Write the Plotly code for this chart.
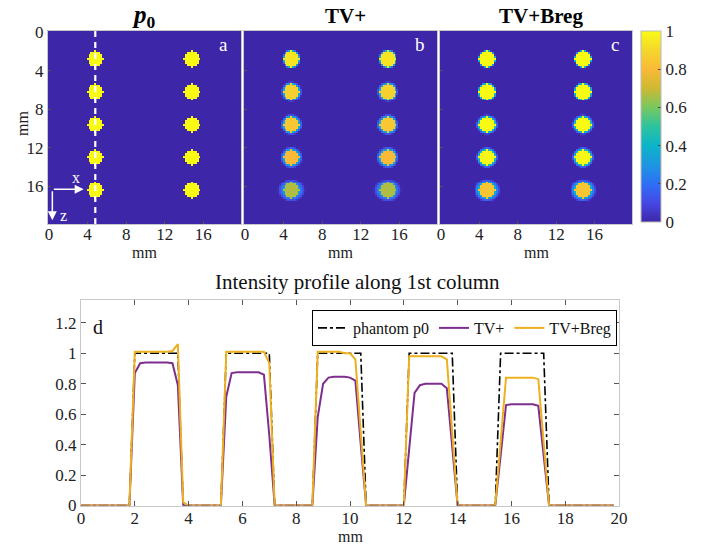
import numpy as np
import plotly.graph_objects as go

# ---------------- data ----------------
# profile positions along the first column (mm)
z_mm = [round(0.2 * i, 1) for i in range(100)]

phantom_p0 = ([0] * 10 + [1] * 9 + [0] * 8 + [1] * 9 + [0] * 8 + [1] * 9 +
              [0] * 8 + [1] * 9 + [0] * 8 + [1] * 9 + [0] * 13)

tv_plus = ([0] * 10 +
           [0.87, 0.935, 0.94, 0.94, 0.94, 0.94, 0.94, 0.935, 0.79] +
           [0] * 8 +
           [0.715, 0.87, 0.875, 0.875, 0.875, 0.875, 0.875, 0.86, 0.46] +
           [0] * 8 +
           [0.58, 0.80, 0.84, 0.845, 0.845, 0.845, 0.84, 0.82, 0.40] +
           [0] * 8 +
           [0.37, 0.74, 0.79, 0.80, 0.80, 0.80, 0.80, 0.77, 0.38] +
           [0] * 8 +
           [0.33, 0.66, 0.665, 0.665, 0.665, 0.665, 0.665, 0.655, 0.33] +
           [0] * 13)

tv_breg = ([0] * 10 +
           [1.01, 1.01, 1.01, 1.01, 1.01, 1.01, 1.01, 1.015, 1.06] +
           [0.02] + [0] * 7 +
           [1.01, 1.01, 1.01, 1.01, 1.01, 1.01, 1.01, 1.01, 0.935] +
           [0] * 8 +
           [1.01, 1.01, 1.01, 1.01, 1.01, 1.0, 1.0, 0.96, 0.50] +
           [0] * 8 +
           [0.98, 0.98, 0.98, 0.98, 0.98, 0.98, 0.98, 0.96, 0.50] +
           [0] * 8 +
           [0.42, 0.84, 0.84, 0.84, 0.84, 0.84, 0.84, 0.83, 0.40] +
           [0] * 13)

# image spots (mm)
spot_x = [4.8, 14.8]
spot_z = [2.8, 6.2, 9.6, 13.0, 16.4]
spot_r = 0.8
p0_peak = [1.0, 1.0, 1.0, 1.0, 1.0]
tv_peak = [0.94, 0.875, 0.845, 0.80, 0.665]
breg_peak = [1.0, 1.0, 1.0, 0.99, 0.84]
tv_halo_x = [0.15, 0.3, 0.35, 0.4, 0.65]
tv_halo_z = [0.15, 0.25, 0.3, 0.35, 0.4]
breg_halo_x = [0.1, 0.2, 0.3, 0.3, 0.55]
breg_halo_z = [0.1, 0.2, 0.25, 0.3, 0.4]

cbar_ticks = [0, 0.2, 0.4, 0.6, 0.8, 1]
cbar_labels = ["0", "0.2", "0.4", "0.6", "0.8", "1"]
img_ticks = [0, 4, 8, 12, 16]
prof_xticks = [0, 2, 4, 6, 8, 10, 12, 14, 16, 18, 20]
prof_yticks = [0, 0.2, 0.4, 0.6, 0.8, 1.0, 1.2]
prof_ylabels = ["0", "0.2", "0.4", "0.6", "0.8", "1", "1.2"]

# ---------------- build images from spot lists ----------------
grid = np.array(z_mm)
X, Z = np.meshgrid(grid, grid)


def render(peaks, hx=None, hz=None):
    img = np.zeros_like(X, dtype=float)
    for k, zc in enumerate(spot_z):
        for xc in spot_x:
            dx = X - xc
            dz = Z - zc
            d = np.sqrt(dx ** 2 + dz ** 2)
            core = d <= spot_r + 1e-6
            if hx is not None:
                ax_ = spot_r + hx[k]
                az_ = spot_r + hz[k]
                e = np.sqrt((dx / ax_) ** 2 + (dz / az_) ** 2)
                e0 = spot_r / max(ax_, az_)
                val = 0.5 * peaks[k] * np.clip((1 - e) / (1 - e0), 0, 1)
                img = np.maximum(img, val)
            img = np.where(core, peaks[k], img)
    return img


img_p0 = render(p0_peak)
img_tv = render(tv_peak, tv_halo_x, tv_halo_z)
img_breg = render(breg_peak, breg_halo_x, breg_halo_z)

parula = [
    [0.00, "rgb(62,38,168)"],
    [0.10, "rgb(70,72,228)"],
    [0.20, "rgb(45,112,245)"],
    [0.30, "rgb(30,150,225)"],
    [0.40, "rgb(12,180,200)"],
    [0.50, "rgb(45,195,160)"],
    [0.60, "rgb(120,200,95)"],
    [0.70, "rgb(205,185,50)"],
    [0.80, "rgb(250,185,55)"],
    [0.90, "rgb(245,215,45)"],
    [1.00, "rgb(249,250,20)"],
]

FONT = "Liberation Serif"
W, H = 708, 545


def px(x):
    return x / W


def py(y):
    return 1 - y / H


fig = go.Figure()

# panel domains (pixels)
panels = [(48, 241), (244, 437), (440, 632)]
top_y = (31, 224)
imgs = [img_p0, img_tv, img_breg]

for i, (img, (x0, x1)) in enumerate(zip(imgs, panels)):
    n = "" if i == 0 else str(i + 1)
    fig.add_trace(go.Heatmap(
        z=img, x=grid, y=grid, colorscale=parula, zmin=0, zmax=1,
        zsmooth=False, xaxis="x" + n, yaxis="y" + n,
        showscale=(i == 2),
        colorbar=dict(
            x=px(641), xanchor="left", y=py(31), yanchor="top",
            len=(222 - 31) / H, lenmode="fraction", thickness=20,
            thicknessmode="pixels", outlinewidth=1, outlinecolor="#bbbbbb",
            tickvals=cbar_ticks, ticktext=cbar_labels,
            ticks="inside", ticklen=3, tickcolor="#444", xpad=0, ypad=0,
            tickfont=dict(family=FONT, size=17, color="#222"),
        ),
        hoverinfo="skip",
    ))
    fig.layout["xaxis" + n] = dict(
        domain=[px(x0), px(x1)], range=[-0.1, 19.9], anchor="y" + n,
        tickvals=img_ticks, ticks="inside", ticklen=3, tickcolor="#555",
        automargin=False, ticklabelstandoff=-5,
        showline=True, linecolor="#c8c8c8", mirror=True, showgrid=False,
        zeroline=False, tickfont=dict(family=FONT, size=17, color="#222"),
    )
    fig.layout["yaxis" + n] = dict(
        domain=[py(top_y[1]), py(top_y[0])], range=[19.9, -0.1], anchor="x" + n,
        tickvals=img_ticks, ticks="inside", ticklen=3, tickcolor="#555",
        showticklabels=(i == 0), automargin=False,
        showline=True, linecolor="#c8c8c8", mirror=True, showgrid=False,
        zeroline=False, tickfont=dict(family=FONT, size=17, color="#222"),
    )

# profile traces
fig.add_trace(go.Scatter(x=z_mm, y=phantom_p0, mode="lines", name="phantom p0",
                         line=dict(color="black", width=1.6, dash="dashdot"),
                         xaxis="x4", yaxis="y4"))
fig.add_trace(go.Scatter(x=z_mm, y=tv_plus, mode="lines", name="TV+",
                         line=dict(color="#7E2F8E", width=2),
                         xaxis="x4", yaxis="y4"))
fig.add_trace(go.Scatter(x=z_mm, y=tv_breg, mode="lines", name="TV+Breg",
                         line=dict(color="#EDB120", width=2),
                         xaxis="x4", yaxis="y4"))

fig.layout["xaxis4"] = dict(
    domain=[px(81), px(619)], range=[0, 20], anchor="y4",
    tickvals=prof_xticks, ticks="inside", ticklen=5, tickcolor="#555",
    automargin=False, ticklabelstandoff=-3,
    showline=True, linecolor="#c8c8c8", mirror="ticks", showgrid=False,
    zeroline=False, tickfont=dict(family=FONT, size=17, color="#222"),
)
fig.layout["yaxis4"] = dict(
    domain=[py(505.5), py(300)], range=[0, 1.35], anchor="x4",
    tickvals=prof_yticks, ticktext=prof_ylabels, ticks="inside", ticklen=5,
    tickcolor="#555", showline=True, linecolor="#c8c8c8", mirror="ticks",
    automargin=False,
    showgrid=False, zeroline=False,
    tickfont=dict(family=FONT, size=17, color="#222"),
)

# dashed profile line on panel a
fig.add_shape(type="line", xref="x", yref="y", x0=4.8, x1=4.8, y0=-0.1, y1=19.9,
              line=dict(color="white", width=2.2, dash="6px,5px"))

ann = []


def text_ann(x, y, t, size, color="#222", angle=0, yanchor="middle"):
    return dict(x=px(x), y=py(y), xref="paper", yref="paper", text=t,
                xanchor="center", yanchor=yanchor, showarrow=False,
                textangle=angle, font=dict(family=FONT, size=size, color=color))


# coordinate arrows on panel a
ann.append(dict(x=3.6, y=16.3, ax=0.35, ay=16.3, xref="x", yref="y", axref="x",
                ayref="y", showarrow=True, arrowhead=2, arrowsize=1.2,
                arrowwidth=1.5, arrowcolor="white", text=" ",
                font=dict(size=1)))
ann.append(dict(x=0.35, y=19.5, ax=0.35, ay=16.3, xref="x", yref="y", axref="x",
                ayref="y", showarrow=True, arrowhead=2, arrowsize=1.2,
                arrowwidth=1.5, arrowcolor="white", text=" ",
                font=dict(size=1)))
ann.append(dict(x=2.8, y=15.1, xref="x", yref="y", text="x", showarrow=False,
                xanchor="center", yanchor="middle",
                font=dict(family=FONT, size=16, color="white")))
ann.append(dict(x=1.5, y=19.0, xref="x", yref="y", text="z", showarrow=False,
                xanchor="center", yanchor="middle",
                font=dict(family=FONT, size=16, color="white")))

# panel letters
for (lx, ly, t) in [(223, 45, "a"), (420, 45, "b"), (615, 45, "c")]:
    ann.append(text_ann(lx, ly, t, 19, "white"))

# panel titles
ann.append(text_ann(144, 16, "<b><i>p</i></b><sub><b>0</b></sub>", 25, "black"))
ann.append(text_ann(345, 16, "<b>TV+</b>", 21, "black"))
ann.append(text_ann(541, 16, "<b>TV+Breg</b>", 21, "black"))

# axis labels of the images
for cx in [144, 340, 536]:
    ann.append(text_ann(cx, 253, "mm", 16))
ann.append(text_ann(22, 124, "mm", 16, angle=-90))

# profile title, x label, panel letter
ann.append(text_ann(358, 282, "Intensity profile along 1st column", 21, "#111"))
ann.append(text_ann(350, 536, "mm", 16))
ann.append(text_ann(98, 327, "d", 20, "#111"))

fig.update_layout(
    template="none",
    width=W, height=H, margin=dict(l=0, r=0, t=0, b=0, pad=0, autoexpand=False),
    paper_bgcolor="white", plot_bgcolor="white",
    annotations=ann,
    showlegend=True,
    legend=dict(x=px(312), y=py(310), xanchor="left", yanchor="top",
                orientation="h", bordercolor="black", borderwidth=1,
                bgcolor="white", font=dict(family=FONT, size=16, color="#111"),
                itemwidth=30, tracegroupgap=0),
)

fig.write_html("out.html")
